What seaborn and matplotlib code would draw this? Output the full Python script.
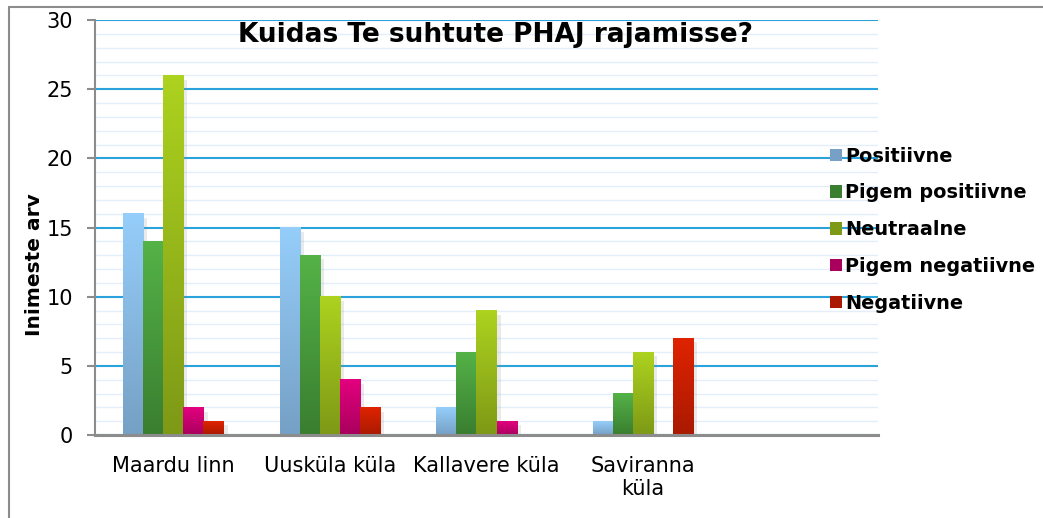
import numpy as np
import pandas as pd
import matplotlib
matplotlib.use("Agg")
import matplotlib.pyplot as plt
import matplotlib.patheffects as pe
from matplotlib.colors import to_rgb
from matplotlib.lines import Line2D
from matplotlib.patches import Patch
import seaborn as sns

# ---------- data ----------
places = ["Maardu linn", "Uusküla küla", "Kallavere küla", "Saviranna\nküla"]
answers = ["Positiivne", "Pigem positiivne", "Neutraalne", "Pigem negatiivne", "Negatiivne"]
positiivne = [16, 15, 2, 1]
pigem_positiivne = [14, 13, 6, 3]
neutraalne = [26, 10, 9, 6]
pigem_negatiivne = [2, 4, 1, 0]
negatiivne = [1, 2, 0, 7]

# gradient colours per answer (top, bottom)
grad = {
    "Positiivne": ("#95cefa", "#76a0c5"),
    "Pigem positiivne": ("#54b247", "#3a7e30"),
    "Neutraalne": ("#add21f", "#7e9916"),
    "Pigem negatiivne": ("#e3007f", "#a9005d"),
    "Negatiivne": ("#df2300", "#a91a00"),
}

values = [positiivne, pigem_positiivne, neutraalne, pigem_negatiivne, negatiivne]
df = pd.DataFrame([
    {"Koht": p, "Vastus": a, "Arv": v[i]}
    for a, v in zip(answers, values)
    for i, p in enumerate(places)
])

sns.set_style("white")
plt.rcParams["font.family"] = ["DejaVu Sans"]
plt.rcParams["text.color"] = "black"
plt.rcParams["xtick.color"] = "black"
plt.rcParams["ytick.color"] = "black"

fig = plt.figure(figsize=(10.43, 5.18), dpi=100)
ax = fig.add_axes([95 / 1043, 1 - 435 / 518, (878 - 95) / 1043, (435 - 20) / 518])

palette = {a: grad[a][0] for a in answers}
sns.barplot(data=df, x="Koht", y="Arv", hue="Vastus", order=places, hue_order=answers,
            palette=palette, width=0.64, ax=ax, zorder=3, saturation=1)
ax.get_legend().remove()

# gradient fill + soft shadow on every bar
shadow = [pe.SimplePatchShadow(offset=(3, -3), shadow_rgbFace="0.55", alpha=0.18), pe.Normal()]
for cont, a in zip(ax.containers, answers):
    top, bot = np.array(to_rgb(grad[a][0])), np.array(to_rgb(grad[a][1]))
    g = np.linspace(0, 1, 64)[:, None, None]
    img = top * (1 - g) + bot * g
    for bar in cont:
        h = bar.get_height()
        if h <= 0:
            bar.set_visible(False)
            continue
        bar.set_linewidth(0)
        bar.set_path_effects(shadow)
        x0 = bar.get_x()
        ax.imshow(img, extent=[x0, x0 + bar.get_width(), 0, h], aspect="auto",
                  origin="upper", zorder=4, interpolation="bilinear")

ax.set_xlim(-0.5, 4.5)
ax.set_ylim(0, 30)

# grid lines
ax.set_yticks(range(0, 31, 5))
ax.set_yticks(range(0, 31), minor=True)
ax.grid(False)
ax.yaxis.grid(True, which="minor", color="#e2effa", lw=1.0, zorder=0)
ax.yaxis.grid(True, which="major", color="#2aa3dc", lw=1.5, zorder=1)
ax.set_axisbelow(True)

for s in ["top", "right"]:
    ax.spines[s].set_visible(False)
ax.spines["left"].set_color("#8c8c8c")
ax.spines["left"].set_linewidth(1.5)
ax.spines["bottom"].set_color("#8c8c8c")
ax.spines["bottom"].set_linewidth(2.2)
ax.spines["bottom"].set_zorder(6)

ax.tick_params(axis="y", which="major", length=6, width=1.5, color="#8c8c8c",
               direction="out", pad=10, labelsize=15, left=True, labelcolor="black")
ax.tick_params(axis="y", which="minor", length=0)
ax.tick_params(axis="x", length=0, pad=15, labelsize=15, labelcolor="black")
ax.set_xlabel("")
ax.set_ylabel("")

fig.text(35 / 1043, 1 - 265 / 518, "Inimeste arv", rotation=90, ha="center", va="center",
         fontsize=14.5, fontweight="bold")
fig.text(495 / 1043, 1 - 35 / 518, "Kuidas Te suhtute PHAJ rajamisse?", ha="center",
         va="center", fontsize=19, fontweight="bold")

handles = [Patch(facecolor=grad[a][0], edgecolor="none") for a in answers]
leg = fig.legend(handles, answers, loc="upper left", bbox_to_anchor=(820 / 1043, 1 - 137 / 518),
                 frameon=False, prop={"weight": "bold", "size": 13.9}, handlelength=0.62,
                 handleheight=0.62, handletextpad=0.2, labelspacing=0.92, borderpad=0)
for h, a in zip(leg.legend_handles, answers):
    h.set_facecolor(grad[a][1])

# outer frame
fig.add_artist(Line2D([9 / 1043, 9 / 1043], [0, 1 - 7 / 518], transform=fig.transFigure,
                      color="#8c8c8c", lw=1.5))
fig.add_artist(Line2D([9 / 1043, 1], [1 - 7 / 518, 1 - 7 / 518], transform=fig.transFigure,
                      color="#8c8c8c", lw=1.5))

fig.savefig("out.png", dpi=100)
